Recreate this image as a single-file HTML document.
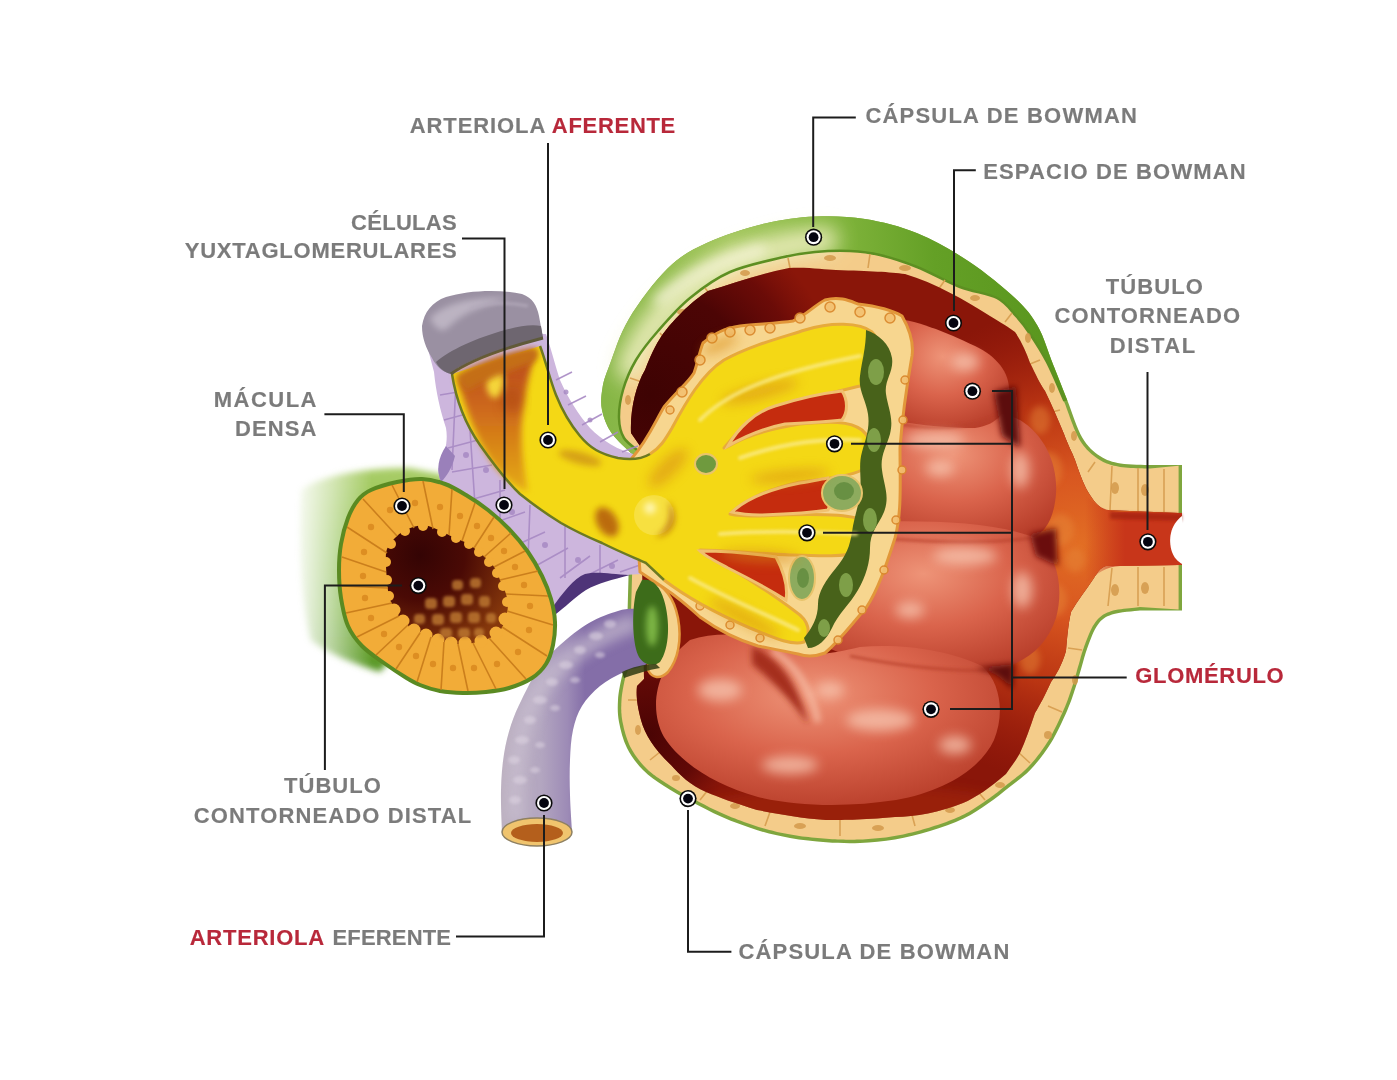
<!DOCTYPE html>
<html><head><meta charset="utf-8"><title>Nefrona</title>
<style>
html,body{margin:0;padding:0;background:#fff;width:1397px;height:1080px;overflow:hidden}
svg{display:block}
.t{font-family:"Liberation Sans",sans-serif;font-weight:bold;font-size:22px;fill:#7b7b7b;stroke:#7b7b7b;stroke-width:0.15px}
.r{fill:#b8283a;stroke:#b8283a}
.ln{stroke:#1c1c1c;stroke-width:2;fill:none}
</style></head><body>
<svg width="1397" height="1080" viewBox="0 0 1397 1080">
<defs>
<g id="dot"><circle r="8.6" fill="#0a0a0a"/><circle r="7" fill="#fff"/><circle r="4.9" fill="#050510"/></g>
</defs>
<rect width="1397" height="1080" fill="#fff"/>
<g id="art"><defs>
<linearGradient id="gTail" x1="292" y1="0" x2="390" y2="0" gradientUnits="userSpaceOnUse">
<stop offset="0" stop-color="#8cbc48" stop-opacity="0"/><stop offset="0.4" stop-color="#8cbc48" stop-opacity="0.7"/><stop offset="1" stop-color="#6aa62e"/></linearGradient>
<linearGradient id="gTailV" x1="0" y1="470" x2="0" y2="690" gradientUnits="userSpaceOnUse">
<stop offset="0" stop-color="#e8f0b0" stop-opacity="0.45"/><stop offset="0.3" stop-color="#000" stop-opacity="0"/><stop offset="0.75" stop-color="#000" stop-opacity="0"/><stop offset="1" stop-color="#1a4a00" stop-opacity="0.3"/></linearGradient>
<linearGradient id="gShell" x1="600" y1="330" x2="1050" y2="300" gradientUnits="userSpaceOnUse">
<stop offset="0" stop-color="#86b646"/><stop offset="0.3" stop-color="#a2c65c"/><stop offset="0.5" stop-color="#86b840"/><stop offset="0.75" stop-color="#64a026"/><stop offset="1" stop-color="#5a961e"/></linearGradient>
<radialGradient id="gSpace" cx="1085" cy="545" r="480" fx="1085" fy="545" gradientUnits="userSpaceOnUse">
<stop offset="0" stop-color="#dd6a22"/><stop offset="0.2" stop-color="#cf4718"/><stop offset="0.42" stop-color="#b0260e"/><stop offset="0.62" stop-color="#7e0e08"/><stop offset="0.85" stop-color="#5a0606"/><stop offset="1" stop-color="#4a0404"/></radialGradient>
<linearGradient id="gEff" x1="505" y1="0" x2="585" y2="0" gradientUnits="userSpaceOnUse">
<stop offset="0" stop-color="#bcb0c0"/><stop offset="0.45" stop-color="#b3a6c0"/><stop offset="0.78" stop-color="#9d8bb6"/><stop offset="1" stop-color="#846ea8"/></linearGradient>
<radialGradient id="gLumen" cx="420" cy="555" r="100" gradientUnits="userSpaceOnUse">
<stop offset="0" stop-color="#340404"/><stop offset="0.45" stop-color="#4a0a05"/><stop offset="1" stop-color="#86380c"/></radialGradient>
<radialGradient id="gLobe" cx="0.45" cy="0.35" r="0.7">
<stop offset="0" stop-color="#ee9478"/><stop offset="0.5" stop-color="#da644c"/><stop offset="1" stop-color="#b83e2a"/></radialGradient>
<linearGradient id="gArtIn" x1="0" y1="350" x2="0" y2="490" gradientUnits="userSpaceOnUse">
<stop offset="0" stop-color="#b8461a"/><stop offset="0.45" stop-color="#cf6c1a"/><stop offset="1" stop-color="#e5aa18"/></linearGradient>
<linearGradient id="gTubeLum" x1="1085" y1="0" x2="1125" y2="0" gradientUnits="userSpaceOnUse">
<stop offset="0" stop-color="#c8361a" stop-opacity="0"/><stop offset="1" stop-color="#c8361a"/></linearGradient>
<linearGradient id="gTailC" x1="0" y1="470" x2="0" y2="670" gradientUnits="userSpaceOnUse">
<stop offset="0" stop-color="#a9cd68"/><stop offset="0.35" stop-color="#8cbf4a"/><stop offset="0.7" stop-color="#74ae36"/><stop offset="1" stop-color="#5a9828"/></linearGradient>
<linearGradient id="gTailM" x1="292" y1="0" x2="372" y2="0" gradientUnits="userSpaceOnUse">
<stop offset="0" stop-color="#000"/><stop offset="0.5" stop-color="#777"/><stop offset="1" stop-color="#fff"/></linearGradient>
<mask id="mTail" maskUnits="userSpaceOnUse" x="250" y="440" width="250" height="260"><rect x="250" y="440" width="250" height="260" fill="url(#gTailM)"/></mask>
<radialGradient id="gSpDark" cx="650" cy="395" r="190" gradientUnits="userSpaceOnUse">
<stop offset="0" stop-color="#3e0303"/><stop offset="0.55" stop-color="#4c0505"/><stop offset="0.8" stop-color="#5e0707" stop-opacity="0.7"/><stop offset="1" stop-color="#6a0a08" stop-opacity="0"/></radialGradient>
<radialGradient id="gSpOr" cx="1080" cy="545" r="240" gradientUnits="userSpaceOnUse">
<stop offset="0" stop-color="#e26e24"/><stop offset="0.3" stop-color="#d85620"/><stop offset="0.6" stop-color="#c23a14" stop-opacity="0.85"/><stop offset="1" stop-color="#a82210" stop-opacity="0"/></radialGradient>
<radialGradient id="gSpDark2" cx="648" cy="735" r="90" gradientUnits="userSpaceOnUse">
<stop offset="0" stop-color="#4a0404"/><stop offset="0.6" stop-color="#560606" stop-opacity="0.8"/><stop offset="1" stop-color="#600808" stop-opacity="0"/></radialGradient>
<filter id="blur2" x="-50%" y="-50%" width="200%" height="200%"><feGaussianBlur stdDeviation="1.5"/></filter>
<filter id="blur3" x="-50%" y="-50%" width="200%" height="200%"><feGaussianBlur stdDeviation="3"/></filter>
<filter id="blur6" x="-50%" y="-50%" width="200%" height="200%"><feGaussianBlur stdDeviation="6"/></filter>
<filter id="blur10" x="-50%" y="-50%" width="200%" height="200%"><feGaussianBlur stdDeviation="10"/></filter>
</defs>

<!-- green tail behind left tubule -->
<g mask="url(#mTail)"><path d="M300,490 C320,476 360,468 410,468 L470,480 L440,600 L380,672 C355,664 330,655 310,640 C300,600 296,540 300,490 Z" fill="url(#gTailC)" filter="url(#blur3)"/></g>
<!-- capsule outer (green rim) -->
<path d="M632,454 C628.6,450.5 616.5,440.3 611.5,433.0 C606.5,425.7 603.5,417.5 602.0,410.0 C600.5,402.5 601.3,395.4 602.5,388.0 C603.7,380.6 605.0,377.1 609.4,365.6 C613.8,354.1 619.2,335.1 628.9,318.9 C638.6,302.7 654.8,280.9 667.8,268.3 C680.8,255.7 690.5,250.4 706.7,243.0 C722.9,235.6 747.0,228.0 765.0,223.6 C783.0,219.2 798.3,217.3 815.0,216.5 C831.7,215.7 848.0,216.2 865.0,219.0 C882.0,221.8 900.0,226.1 917.3,233.2 C934.6,240.3 952.5,250.6 968.9,261.5 C985.3,272.4 1004.0,287.7 1015.5,298.5 C1027.0,309.3 1031.6,315.5 1037.8,326.3 C1044.0,337.1 1047.7,351.0 1052.6,363.3 C1057.5,375.6 1062.5,388.0 1067.4,400.4 C1072.3,412.8 1076.8,428.1 1082.2,437.4 C1087.6,446.7 1093.6,451.6 1100.0,456.0 C1106.4,460.4 1112.4,462.0 1120.7,463.5 C1129.0,465.0 1145.1,464.8 1150.0,465.0 L1182,465 L1182,610.6 L1140,610.6 C1135.3,611.3 1119.0,612.2 1112.0,614.6 C1105.0,617.0 1101.9,619.3 1097.8,624.8 C1093.7,630.2 1090.3,640.2 1087.6,647.3 C1084.9,654.4 1083.5,660.8 1081.5,667.6 C1079.5,674.4 1077.8,680.9 1075.4,688.0 C1073.0,695.1 1071.3,701.2 1067.2,710.4 C1063.1,719.6 1057.1,733.1 1051.0,743.0 C1044.9,752.9 1037.4,762.2 1030.6,769.5 C1023.8,776.8 1017.3,780.8 1010.2,786.5 C1003.1,792.2 995.8,798.2 988.0,803.5 C980.2,808.8 973.3,813.9 963.6,818.5 C953.9,823.1 941.4,827.5 930.0,831.0 C918.6,834.5 906.7,837.5 895.0,839.5 C883.3,841.5 871.5,842.5 860.0,843.0 C848.5,843.5 837.9,843.1 826.2,842.3 C814.5,841.5 801.5,840.0 790.0,838.0 C778.5,836.0 768.8,833.7 757.5,830.2 C746.2,826.7 733.2,821.9 722.0,817.0 C710.8,812.1 699.7,806.2 690.0,801.0 C680.3,795.8 671.8,791.2 664.0,786.0 C656.2,780.8 649.2,776.3 643.0,770.0 C636.8,763.7 631.0,756.0 627.0,748.0 C623.0,740.0 620.5,730.0 619.0,722.0 C617.5,714.0 617.6,707.3 618.0,700.0 C618.4,692.7 620.3,683.7 621.6,678.0 C622.9,672.3 625.3,668.0 626.0,666.0 Z" fill="#7fa63e"/>
<!-- cell layer -->
<path d="M635.5,454.1 L633.4,450.5 L632.0,449.2 L630.4,447.7 L628.7,446.1 L626.7,444.3 L624.8,442.4 L622.8,440.5 L620.8,438.5 L618.9,436.5 L617.2,434.6 L615.6,432.7 L614.4,431.0 L613.3,429.3 L612.2,427.5 L611.2,425.7 L610.3,423.9 L609.5,422.1 L608.7,420.3 L608.0,418.4 L607.3,416.6 L606.8,414.7 L606.3,412.9 L605.8,411.1 L605.4,409.3 L605.1,407.6 L604.9,405.9 L604.8,404.2 L604.7,402.5 L604.7,400.8 L604.7,399.1 L604.8,397.4 L605.0,395.7 L605.2,393.9 L605.4,392.2 L605.7,390.4 L606.0,388.6 L606.3,386.9 L606.6,385.3 L606.9,383.8 L607.2,382.3 L607.6,380.9 L608.1,379.4 L608.6,377.8 L609.2,376.1 L609.9,374.1 L610.7,372.0 L611.6,369.6 L612.7,366.8 L613.8,363.8 L615.0,360.4 L616.2,356.9 L617.5,353.1 L618.9,349.3 L620.4,345.3 L622.0,341.2 L623.7,337.0 L625.5,332.9 L627.5,328.8 L629.6,324.7 L631.9,320.7 L634.4,316.6 L637.2,312.3 L640.1,307.9 L643.3,303.4 L646.6,298.9 L649.9,294.4 L653.4,290.0 L656.8,285.7 L660.3,281.5 L663.7,277.7 L667.0,274.1 L670.3,270.8 L673.3,267.9 L676.3,265.2 L679.3,262.8 L682.1,260.6 L685.0,258.6 L687.9,256.7 L690.9,254.9 L694.0,253.1 L697.2,251.4 L700.6,249.7 L704.3,248.0 L708.1,246.2 L712.3,244.4 L716.7,242.5 L721.3,240.7 L726.2,238.9 L731.2,237.2 L736.2,235.5 L741.4,233.9 L746.5,232.3 L751.5,230.8 L756.5,229.4 L761.2,228.2 L765.8,227.0 L770.2,226.0 L774.5,225.0 L778.7,224.2 L782.9,223.4 L787.0,222.7 L791.0,222.1 L795.0,221.6 L799.0,221.2 L803.0,220.8 L807.0,220.5 L811.1,220.2 L815.2,220.0 L819.3,219.8 L823.4,219.7 L827.5,219.7 L831.5,219.7 L835.6,219.8 L839.7,219.9 L843.8,220.1 L847.9,220.4 L852.0,220.8 L856.1,221.3 L860.3,221.8 L864.4,222.5 L868.7,223.2 L872.9,224.0 L877.2,224.8 L881.5,225.8 L885.8,226.8 L890.2,227.9 L894.5,229.1 L898.8,230.3 L903.1,231.7 L907.4,233.2 L911.7,234.8 L916.0,236.4 L920.2,238.2 L924.5,240.2 L928.8,242.2 L933.1,244.4 L937.5,246.6 L941.8,249.0 L946.0,251.4 L950.3,253.9 L954.5,256.5 L958.7,259.1 L962.9,261.7 L967.0,264.4 L971.0,267.2 L975.2,270.1 L979.4,273.2 L983.6,276.3 L987.7,279.5 L991.8,282.8 L995.8,286.0 L999.7,289.2 L1003.4,292.3 L1006.9,295.4 L1010.1,298.3 L1013.1,301.1 L1015.8,303.6 L1018.2,306.0 L1020.4,308.3 L1022.4,310.4 L1024.2,312.5 L1025.9,314.6 L1027.5,316.6 L1028.9,318.7 L1030.4,320.8 L1031.8,323.1 L1033.3,325.5 L1034.7,328.0 L1036.2,330.7 L1037.5,333.4 L1038.8,336.3 L1040.0,339.3 L1041.2,342.3 L1042.4,345.4 L1043.5,348.6 L1044.6,351.8 L1045.8,355.0 L1046.9,358.2 L1048.1,361.4 L1049.3,364.6 L1050.6,367.7 L1051.8,370.8 L1053.0,373.9 L1054.3,377.0 L1055.5,380.1 L1056.7,383.1 L1058.0,386.2 L1059.2,389.3 L1060.4,392.4 L1061.7,395.5 L1062.9,398.6 L1064.1,401.7 L1065.4,404.8 L1066.5,408.0 L1067.7,411.3 L1068.9,414.6 L1070.1,417.9 L1071.3,421.3 L1072.6,424.5 L1073.8,427.7 L1075.1,430.8 L1076.4,433.8 L1077.8,436.6 L1079.2,439.2 L1080.6,441.5 L1082.1,443.7 L1083.6,445.7 L1085.1,447.6 L1086.7,449.4 L1088.3,451.0 L1089.9,452.5 L1091.5,454.0 L1093.1,455.3 L1094.7,456.6 L1096.4,457.8 L1098.1,458.9 L1099.8,460.0 L1101.5,461.0 L1103.2,461.9 L1105.0,462.7 L1106.7,463.5 L1108.5,464.1 L1110.3,464.7 L1112.2,465.2 L1114.0,465.7 L1116.0,466.1 L1118.0,466.6 L1120.1,467.0 L1122.5,467.3 L1125.1,467.6 L1127.9,467.8 L1130.7,468.0 L1133.6,468.1 L1136.5,468.2 L1139.4,468.3 L1142.0,468.3 L1144.5,468.4 L1146.6,468.4 L1148.5,468.4 L1150.0,468.5 L1178.6,465.8 L1178.6,609.6 L1140.0,607.1 L1138.2,607.3 L1136.4,607.5 L1134.3,607.7 L1131.9,607.9 L1129.3,608.2 L1126.5,608.5 L1123.7,608.8 L1120.9,609.2 L1118.1,609.6 L1115.5,610.1 L1113.1,610.6 L1110.9,611.3 L1109.1,611.9 L1107.4,612.6 L1105.9,613.3 L1104.4,614.0 L1103.0,614.8 L1101.7,615.7 L1100.5,616.7 L1099.3,617.7 L1098.2,618.8 L1097.1,620.0 L1096.1,621.3 L1095.0,622.7 L1093.9,624.4 L1092.8,626.1 L1091.8,628.0 L1090.8,630.0 L1089.9,632.0 L1089.0,634.1 L1088.1,636.2 L1087.3,638.2 L1086.5,640.3 L1085.7,642.3 L1085.0,644.2 L1084.3,646.1 L1083.7,647.9 L1083.0,649.7 L1082.5,651.5 L1081.9,653.2 L1081.4,654.9 L1080.9,656.6 L1080.5,658.3 L1080.0,660.0 L1079.6,661.6 L1079.1,663.3 L1078.6,664.9 L1078.1,666.6 L1077.6,668.3 L1077.1,670.0 L1076.7,671.7 L1076.2,673.4 L1075.7,675.0 L1075.2,676.7 L1074.7,678.4 L1074.2,680.0 L1073.7,681.7 L1073.2,683.4 L1072.7,685.2 L1072.1,686.9 L1071.5,688.7 L1070.9,690.4 L1070.4,692.1 L1069.8,693.8 L1069.2,695.5 L1068.6,697.3 L1068.0,699.1 L1067.3,700.9 L1066.6,702.8 L1065.8,704.7 L1065.0,706.8 L1064.0,709.0 L1062.9,711.4 L1061.8,713.9 L1060.6,716.5 L1059.4,719.3 L1058.1,722.1 L1056.7,724.9 L1055.3,727.8 L1053.9,730.6 L1052.4,733.4 L1051.0,736.1 L1049.5,738.7 L1048.0,741.2 L1046.5,743.6 L1044.9,745.9 L1043.3,748.3 L1041.7,750.6 L1040.0,752.9 L1038.3,755.1 L1036.6,757.3 L1034.9,759.4 L1033.1,761.4 L1031.4,763.4 L1029.7,765.3 L1028.1,767.1 L1026.4,768.8 L1024.8,770.3 L1023.2,771.8 L1021.6,773.2 L1020.0,774.5 L1018.4,775.8 L1016.7,777.1 L1015.0,778.4 L1013.3,779.7 L1011.6,781.0 L1009.8,782.4 L1008.0,783.8 L1006.2,785.2 L1004.4,786.6 L1002.6,788.1 L1000.8,789.5 L999.0,790.9 L997.2,792.4 L995.4,793.8 L993.5,795.2 L991.7,796.6 L989.8,797.9 L987.9,799.3 L986.0,800.6 L984.1,801.9 L982.2,803.3 L980.3,804.6 L978.4,805.8 L976.5,807.1 L974.6,808.3 L972.7,809.5 L970.7,810.7 L968.7,811.9 L966.6,813.1 L964.4,814.2 L962.1,815.3 L959.7,816.5 L957.2,817.6 L954.5,818.7 L951.8,819.7 L949.1,820.8 L946.3,821.9 L943.4,822.9 L940.5,823.9 L937.6,824.9 L934.7,825.8 L931.8,826.8 L929.0,827.7 L926.1,828.5 L923.3,829.3 L920.4,830.2 L917.5,830.9 L914.6,831.7 L911.8,832.4 L908.9,833.1 L906.0,833.8 L903.1,834.4 L900.2,835.0 L897.3,835.5 L894.4,836.1 L891.5,836.5 L888.7,837.0 L885.8,837.4 L882.9,837.7 L880.0,838.0 L877.1,838.3 L874.2,838.6 L871.3,838.8 L868.4,839.0 L865.6,839.2 L862.7,839.4 L859.9,839.5 L857.0,839.6 L854.3,839.7 L851.5,839.7 L848.7,839.7 L846.0,839.7 L843.3,839.6 L840.5,839.6 L837.7,839.5 L835.0,839.3 L832.2,839.2 L829.3,839.0 L826.5,838.8 L823.5,838.6 L820.6,838.3 L817.6,838.1 L814.5,837.8 L811.5,837.5 L808.4,837.1 L805.4,836.7 L802.3,836.4 L799.3,835.9 L796.4,835.5 L793.5,835.0 L790.6,834.6 L787.8,834.0 L785.1,833.5 L782.4,833.0 L779.7,832.4 L777.1,831.9 L774.5,831.3 L771.9,830.6 L769.3,829.9 L766.7,829.2 L764.0,828.5 L761.3,827.7 L758.5,826.9 L755.7,826.0 L752.8,825.0 L749.9,824.0 L746.9,823.0 L743.9,821.9 L740.9,820.8 L737.9,819.7 L735.0,818.5 L732.0,817.4 L729.1,816.2 L726.2,815.0 L723.4,813.8 L720.6,812.6 L717.9,811.3 L715.1,810.0 L712.4,808.7 L709.7,807.4 L707.0,806.0 L704.3,804.6 L701.7,803.3 L699.1,801.9 L696.6,800.6 L694.1,799.2 L691.7,797.9 L689.3,796.6 L686.9,795.4 L684.6,794.1 L682.4,792.9 L680.2,791.7 L678.0,790.5 L675.9,789.2 L673.9,788.0 L671.8,786.8 L669.8,785.6 L667.9,784.3 L665.9,783.1 L664.0,781.8 L662.1,780.5 L660.2,779.3 L658.4,778.1 L656.7,776.9 L654.9,775.6 L653.3,774.4 L651.6,773.1 L650.0,771.8 L648.5,770.4 L647.0,769.0 L645.5,767.6 L644.0,766.0 L642.6,764.4 L641.1,762.7 L639.7,761.1 L638.3,759.3 L637.0,757.6 L635.7,755.8 L634.5,753.9 L633.3,752.1 L632.2,750.2 L631.1,748.3 L630.1,746.4 L629.2,744.5 L628.4,742.5 L627.6,740.5 L626.8,738.3 L626.1,736.2 L625.4,734.0 L624.8,731.8 L624.2,729.7 L623.7,727.5 L623.3,725.4 L622.8,723.3 L622.4,721.4 L622.1,719.5 L621.8,717.6 L621.6,715.8 L621.5,714.1 L621.3,712.4 L621.3,710.6 L621.2,708.9 L621.2,707.2 L621.3,705.5 L621.3,703.8 L621.4,702.0 L621.5,700.2 L621.6,698.4 L621.8,696.6 L622.0,694.7 L622.3,692.8 L622.6,690.9 L622.9,689.0 L623.3,687.1 L623.6,685.3 L624.0,683.5 L624.3,681.8 L624.7,680.3 L625.0,678.8 L625.3,677.5 L625.7,676.3 L626.1,675.1 L626.5,674.0 L626.9,673.0 L627.3,672.0 L627.7,671.0 L628.0,670.1 L628.4,669.3 L628.7,668.6 L629.0,667.9 L629.5,666.1 Z" fill="#f4cc8a"/>
<!-- green shell -->
<path d="M632,454 C628.6,450.5 616.5,440.3 611.5,433.0 C606.5,425.7 603.5,417.5 602.0,410.0 C600.5,402.5 601.3,395.4 602.5,388.0 C603.7,380.6 605.0,377.1 609.4,365.6 C613.8,354.1 619.2,335.1 628.9,318.9 C638.6,302.7 654.8,280.9 667.8,268.3 C680.8,255.7 690.5,250.4 706.7,243.0 C722.9,235.6 747.0,228.0 765.0,223.6 C783.0,219.2 798.3,217.3 815.0,216.5 C831.7,215.7 848.0,216.2 865.0,219.0 C882.0,221.8 900.0,226.1 917.3,233.2 C934.6,240.3 952.5,250.6 968.9,261.5 C985.3,272.4 1004.0,287.7 1015.5,298.5 C1027.0,309.3 1031.6,315.5 1037.8,326.3 C1044.0,337.1 1047.7,351.0 1052.6,363.3 C1057.5,375.6 1064.9,394.2 1067.4,400.4 L1064.5,401 C1061.6,394.5 1052.8,373.2 1047.0,362.0 C1041.2,350.8 1035.2,341.7 1030.0,334.0 C1024.8,326.3 1021.5,322.0 1016.0,316.0 C1010.5,310.0 1006.3,302.8 997.0,298.0 C987.7,293.2 973.3,292.2 960.0,287.0 C946.7,281.8 930.3,272.3 917.0,267.0 C903.7,261.7 891.2,257.7 880.0,255.0 C868.8,252.3 860.8,251.5 850.0,251.0 C839.2,250.5 826.0,251.0 815.0,252.0 C804.0,253.0 798.2,253.7 784.0,257.0 C769.8,260.3 745.7,265.2 730.0,272.0 C714.3,278.8 702.0,288.2 690.0,298.0 C678.0,307.8 667.0,320.7 658.0,331.0 C649.0,341.3 641.8,350.2 636.0,360.0 C630.2,369.8 625.8,380.3 623.0,390.0 C620.2,399.7 618.8,410.0 619.0,418.0 C619.2,426.0 620.5,432.3 624.0,438.0 C627.5,443.7 637.3,449.7 640.0,452.0 Z" fill="url(#gShell)"/>
<path d="M630,368 C646,326 680,292 722,268 C755,252 790,244 825,240" fill="none" stroke="#eeeebe" stroke-width="26" stroke-linecap="round" opacity="0.95" filter="url(#blur10)"/>
<path d="M660,300 C690,275 720,260 760,250" fill="none" stroke="#f6f4d8" stroke-width="12" stroke-linecap="round" opacity="0.8" filter="url(#blur6)"/>
<path d="M1064.5,401 C1061.6,394.5 1052.8,373.2 1047.0,362.0 C1041.2,350.8 1035.2,341.7 1030.0,334.0 C1024.8,326.3 1021.5,322.0 1016.0,316.0 C1010.5,310.0 1006.3,302.8 997.0,298.0 C987.7,293.2 973.3,292.2 960.0,287.0 C946.7,281.8 930.3,272.3 917.0,267.0 C903.7,261.7 891.2,257.7 880.0,255.0 C868.8,252.3 860.8,251.5 850.0,251.0 C839.2,250.5 826.0,251.0 815.0,252.0 C804.0,253.0 798.2,253.7 784.0,257.0 C769.8,260.3 745.7,265.2 730.0,272.0 C714.3,278.8 702.0,288.2 690.0,298.0 C678.0,307.8 667.0,320.7 658.0,331.0 C649.0,341.3 641.8,350.2 636.0,360.0 C630.2,369.8 625.8,380.3 623.0,390.0 C620.2,399.7 618.8,410.0 619.0,418.0 C619.2,426.0 620.5,432.3 624.0,438.0 C627.5,443.7 637.3,449.7 640.0,452.0" fill="none" stroke="#5d8f22" stroke-width="2.5"/>
<!-- cell separators & nuclei -->
<g stroke="#d9a154" stroke-width="1.6" fill="none">
<path d="M660,333 L668,343 M705,288 L712,297 M788,258 L790,268 M870,254 L868,268 M945,280 L938,290 M1012,313 L1005,322 M1040,360 L1030,364 M1060,410 L1048,413 M1095,462 L1088,472 M1112,466 L1110,510 M1138,468 L1138,512 M1164,469 L1164,512 M1112,568 L1108,606 M1138,567 L1138,606 M1164,567 L1164,606 M1082,650 L1068,648 M1062,712 L1048,706 M1030,763 L1018,752 M985,800 L975,788 M915,826 L912,815 M840,836 L840,820 M765,826 L770,812 M700,800 L708,790 M650,760 L660,752 M628,700 L640,700 M630,378 L642,382"/>
</g>
<g fill="#d49a4c" opacity="0.85">
<ellipse cx="682" cy="312" rx="5" ry="3"/><ellipse cx="745" cy="273" rx="5" ry="3"/><ellipse cx="830" cy="258" rx="6" ry="3"/><ellipse cx="905" cy="268" rx="6" ry="3"/><ellipse cx="975" cy="298" rx="5" ry="3"/><ellipse cx="1028" cy="338" rx="3" ry="5"/><ellipse cx="1052" cy="388" rx="3" ry="5"/><ellipse cx="1074" cy="436" rx="3" ry="5"/><ellipse cx="1145" cy="490" rx="4" ry="6"/><ellipse cx="1115" cy="488" rx="4" ry="6"/><ellipse cx="1145" cy="588" rx="4" ry="6"/><ellipse cx="1115" cy="590" rx="4" ry="6"/><ellipse cx="1075" cy="680" rx="3" ry="5"/><ellipse cx="1048" cy="735" rx="4" ry="4"/><ellipse cx="1000" cy="785" rx="5" ry="3"/><ellipse cx="950" cy="810" rx="5" ry="3"/><ellipse cx="878" cy="828" rx="6" ry="3"/><ellipse cx="800" cy="826" rx="6" ry="3"/><ellipse cx="735" cy="806" rx="5" ry="3"/><ellipse cx="676" cy="778" rx="4" ry="3"/><ellipse cx="638" cy="730" rx="3" ry="5"/><ellipse cx="628" cy="400" rx="3" ry="5"/>
</g>
<!-- bowman's space -->
<clipPath id="cpSpace"><path d="M640,446 L631,433 C630,410 636,385 645,370 C652,352 658,340 666,330 C685,307 700,296 708,291 C735,283 760,274 789,268 C810,267 825,270 836,270 C870,271 890,272 905,274 C935,283 965,300 990,316 C1000,322 1010,328 1015,332 C1022,342 1026,352 1030,363 C1036,375 1040,384 1045,391 C1052,405 1058,420 1064,434 C1068,445 1072,452 1075,460 C1080,475 1085,488 1090,495 C1095,503 1100,508 1106,510 L1178,513 L1178,565 L1106,566 C1100,568 1098,572 1094,578 C1086,590 1078,600 1071,612 C1068,625 1067,640 1066,651 C1062,665 1056,675 1051,682 C1045,695 1040,705 1035,713 C1030,728 1025,742 1020,753 C1015,762 1010,768 1006,774 C990,788 975,798 963,803 C940,812 915,817 895,817 C860,820 840,820 826,820 C800,818 780,814 757,810 C735,803 720,798 706,792 C690,785 680,775 671,765 C655,750 645,735 641,720 C637,705 636,695 637,686 L644,679 Z"/></clipPath>
<g clip-path="url(#cpSpace)">
<rect x="600" y="250" width="600" height="600" fill="#8a1609"/>
<circle cx="650" cy="395" r="190" fill="url(#gSpDark)"/>
<circle cx="1080" cy="545" r="240" fill="url(#gSpOr)"/>
<circle cx="648" cy="735" r="90" fill="url(#gSpDark2)"/>
<ellipse cx="860" cy="810" rx="160" ry="25" fill="#a82a10" opacity="0.5" filter="url(#blur6)"/>
</g>
<path d="M1085,495 C1100,508 1106,511 1120,512 L1182,513 L1182,565 L1120,566 C1106,567 1098,572 1085,585 Z" fill="url(#gTubeLum)"/>
<path d="M1110,512 L1182,514 L1182,521 L1110,519 Z" fill="#9a1a10" opacity="0.6" filter="url(#blur2)"/>
<!-- orange textured cells in the right space -->
<g fill="#e88a3a" opacity="0.45" filter="url(#blur3)">
<ellipse cx="1048" cy="470" rx="14" ry="18"/><ellipse cx="1060" cy="530" rx="14" ry="16"/><ellipse cx="1040" cy="420" rx="10" ry="14"/><ellipse cx="1055" cy="600" rx="12" ry="16"/><ellipse cx="1030" cy="660" rx="10" ry="14"/><ellipse cx="1075" cy="560" rx="10" ry="12"/>
</g>
<!-- white notch at tube end -->
<path d="M1182,516 C1170,525 1168,540 1172,552 C1175,560 1180,563 1184,565 Z" fill="#fff"/>
<!-- glomerulus lobes -->
<path d="M885,412 C930,406 990,405 1020,420 C1046,436 1058,466 1056,494 C1054,518 1046,534 1028,540 C990,544 930,538 870,536 Z" fill="url(#gLobe)"/>
<path d="M866,522 C930,520 995,522 1036,538 C1058,556 1064,588 1056,618 C1046,648 1024,664 994,670 C958,674 900,666 850,656 C830,650 820,644 812,640 Z" fill="url(#gLobe)"/>
<path d="M888,318 C915,319 945,332 975,346 C996,356 1010,372 1009,392 C1008,410 998,425 975,428 C950,428 925,426 890,420 Z" fill="url(#gLobe)"/>
<path d="M690,640 C720,630 760,634 790,648 C810,658 830,654 860,647 C900,643 950,650 982,666 C1002,684 1004,716 994,740 C980,770 942,792 896,800 C850,807 800,807 758,797 C714,785 680,762 664,737 C650,712 652,670 690,640 Z" fill="url(#gLobe)"/>
<!-- lobe contour lines -->
<g fill="none" stroke="#b8402c" stroke-width="3" opacity="0.7" filter="url(#blur2)">
<path d="M900,424 C930,430 970,430 1004,414"/>
<path d="M880,538 C930,542 990,544 1030,538"/>
<path d="M850,656 C900,666 950,672 994,670"/>
</g>
<!-- crease in bottom lobe -->
<path d="M752,646 C775,655 798,680 808,724 C795,706 778,686 752,664 Z" fill="#a52e1e" filter="url(#blur3)"/>
<path d="M772,650 C795,664 812,690 818,722" fill="none" stroke="#f7c0a8" stroke-width="6" filter="url(#blur3)" opacity="0.8"/>
<!-- dark shadows -->
<path d="M994,392 L1016,386 L1020,448 L1002,436 Z" fill="#5c0a0c" filter="url(#blur3)"/>
<path d="M1030,534 L1056,528 L1058,566 L1036,556 Z" fill="#6a0c0c" filter="url(#blur3)"/>
<path d="M975,668 C990,670 1002,676 1012,690 L1014,664 Z" fill="#5c0a0c" filter="url(#blur3)"/>
<!-- highlights -->
<g fill="#f8c8b2" filter="url(#blur6)" opacity="0.75">
<ellipse cx="935" cy="440" rx="30" ry="8"/>
<ellipse cx="1020" cy="470" rx="9" ry="18"/>
<ellipse cx="940" cy="468" rx="14" ry="8"/>
<ellipse cx="965" cy="556" rx="32" ry="9"/>
<ellipse cx="1022" cy="590" rx="10" ry="18"/>
<ellipse cx="910" cy="610" rx="14" ry="8"/>
<ellipse cx="720" cy="690" rx="22" ry="11"/>
<ellipse cx="880" cy="720" rx="34" ry="11"/>
<ellipse cx="955" cy="745" rx="16" ry="9"/>
<ellipse cx="790" cy="765" rx="28" ry="9"/>
<ellipse cx="965" cy="362" rx="14" ry="9"/>
<ellipse cx="830" cy="690" rx="14" ry="8"/>
</g>
<!-- purple JG band -->
<path d="M424,334 L546,334 C552,352 556,368 560,380 C568,398 578,414 590,428 C602,440 616,450 640,456 L662,462 L664,572 C640,574 615,576 600,576 C585,578 570,596 554,610 L500,560 L455,500 L440,480 L438,470 C446,452 448,440 446,428 C440,410 436,392 434,372 Z" fill="#cdb6dd"/>
<g stroke="#a88ac4" stroke-width="1.6" fill="none" opacity="0.9">
<path d="M440,395 L458,392 M444,420 L466,414 M448,448 L478,440 M452,472 L492,465 M470,500 L505,490 M488,525 L525,512 M510,548 L545,532 M532,568 L568,548 M560,578 L590,556 M590,574 L618,560 M620,572 L640,565"/>
<path d="M456,380 L452,470 M470,430 L475,505 M500,480 L500,535 M530,505 L528,560 M565,525 L565,578 M600,545 L600,575"/>
<path d="M556,380 L572,372 M568,405 L586,396 M582,425 L602,414 M600,442 L618,432 M622,452 L638,446"/>
</g>
<g fill="#a587c2" opacity="0.8">
<circle cx="462" cy="405" r="3"/><circle cx="486" cy="470" r="3"/><circle cx="512" cy="512" r="3"/><circle cx="545" cy="545" r="3"/><circle cx="578" cy="560" r="3"/><circle cx="612" cy="566" r="3"/><circle cx="566" cy="392" r="2.5"/><circle cx="590" cy="420" r="2.5"/><circle cx="466" cy="455" r="3"/><circle cx="492" cy="525" r="3"/>
</g>
<path d="M446,446 C438,458 436,470 441,482 C447,476 452,468 455,456 Z" fill="#9a80ba"/>
<path d="M552,608 C562,594 574,578 585,574 C597,571 610,574 630,575 C612,580 598,583 586,590 C574,598 564,608 556,614 Z" fill="#4e3478"/>

<!-- tuft outer border -->
<path d="M632,458 C648,440 656,420 664,407 C676,392 688,383 694,373 C698,362 700,350 703,343 C715,333 725,328 740,326 C760,324 780,323 793,321 C805,316 815,305 825,300 C840,296 850,301 858,304 C875,306 892,310 902,316 C910,330 914,342 912,356 C906,390 902,420 900,448 C900,480 902,512 895,538 C886,566 878,590 866,608 C850,626 840,640 825,653 C812,658 804,656 798,654 C780,650 768,648 758,646 C738,640 718,630 700,617 C688,606 676,596 664,588 L640,572 Z" fill="#f7d68f" stroke="#e2973a" stroke-width="3"/>
<g fill="#f3c070" stroke="#d9862a" stroke-width="1.5" opacity="0.9">
<circle cx="712" cy="338" r="5"/><circle cx="730" cy="332" r="5"/><circle cx="750" cy="330" r="5"/><circle cx="770" cy="328" r="5"/><circle cx="800" cy="318" r="5"/><circle cx="830" cy="307" r="5"/><circle cx="860" cy="312" r="5"/><circle cx="890" cy="318" r="5"/><circle cx="700" cy="360" r="5"/><circle cx="682" cy="392" r="5"/><circle cx="670" cy="410" r="4"/>
<circle cx="905" cy="380" r="4"/><circle cx="903" cy="420" r="4"/><circle cx="902" cy="470" r="4"/><circle cx="896" cy="520" r="4"/><circle cx="884" cy="570" r="4"/><circle cx="862" cy="610" r="4"/><circle cx="838" cy="640" r="4"/>
<circle cx="760" cy="638" r="4"/><circle cx="730" cy="625" r="4"/><circle cx="700" cy="606" r="4"/>
</g>

<!-- yellow mass: arteriole + fingers -->
<g fill="#f4d815">
<path d="M452,374 C456,400 466,425 480,445 C492,462 505,480 520,494 C535,506 548,515 561,523 C575,531 590,538 602,543 C620,552 635,558 646,563 L664,580 C690,600 720,615 750,628 C770,636 790,646 804,642 C812,632 808,620 796,612 C775,596 750,580 730,568 C720,560 705,555 700,550 C720,550 750,553 790,555 C820,556 845,557 858,552 C868,545 868,526 856,518 C840,514 800,514 760,516 C748,516 738,516 730,514 C745,500 765,490 800,482 C830,478 850,476 862,470 C874,462 874,440 862,430 C850,421 830,421 800,424 C780,427 760,432 745,438 C735,442 730,446 724,448 C735,435 748,418 770,410 C800,400 835,392 860,386 C882,378 886,346 872,332 C860,322 830,322 805,330 C780,338 752,345 724,360 C702,374 686,402 672,428 C665,440 660,448 650,454 C640,460 630,460 618,458 C600,454 590,448 580,436 C570,424 562,410 556,395 C550,380 546,362 540,346 Z"/>
</g>
<!-- finger outlines -->
<g fill="none" stroke="#e7aa3c" stroke-width="3" stroke-linejoin="round">
<path d="M664,580 C690,600 720,615 750,628 C770,636 790,646 804,642 C812,632 808,620 796,612 C775,596 750,580 730,568 C720,560 705,555 700,550 C720,550 750,553 790,555 C820,556 845,557 858,552 C868,545 868,526 856,518 C840,514 800,514 760,516 C748,516 738,516 730,514 C745,500 765,490 800,482 C830,478 850,476 862,470 C874,462 874,440 862,430 C850,421 830,421 800,424 C780,427 760,432 745,438 C735,442 730,446 724,448 C735,435 748,418 770,410 C800,400 835,392 860,386 C882,378 886,346 872,332 C860,322 830,322 805,330 C780,338 752,345 724,360 C702,374 686,402 672,428 C665,440 660,448 650,454"/>
</g>
<!-- red gaps -->
<g fill="#c52c0e" stroke="#f0c070" stroke-width="3">
<path d="M728,446 C738,428 755,412 775,406 C800,398 825,393 842,391 C848,400 848,412 842,420 C825,422 805,423 785,424 C765,428 745,436 728,446 Z"/>
<path d="M732,512 C745,500 765,490 800,483 C812,481 822,479 828,478 C832,490 832,502 828,510 C810,513 790,514 760,515 C748,515 740,514 732,512 Z"/>
<path d="M700,551 C720,551 750,553 776,557 C784,572 788,588 786,600 C770,590 748,578 728,568 C715,561 705,556 700,551 Z"/>
</g>
<!-- shading on arteriole -->
<path d="M458,380 C466,410 476,438 492,462 C502,476 514,486 528,492 C524,470 520,445 522,420 C524,395 530,370 536,350 C510,356 482,366 458,380 Z" fill="url(#gArtIn)" filter="url(#blur3)"/>
<ellipse cx="495" cy="382" rx="9" ry="16" fill="#f6d83a" filter="url(#blur3)"/>
<ellipse cx="512" cy="400" rx="10" ry="14" fill="#a8400f" opacity="0.5" filter="url(#blur6)"/>
<ellipse cx="607" cy="522" rx="10" ry="16" transform="rotate(-30 607 522)" fill="#b56010" filter="url(#blur3)" opacity="0.9"/>
<ellipse cx="580" cy="458" rx="22" ry="6" transform="rotate(15 580 458)" fill="#c98a14" filter="url(#blur3)" opacity="0.7"/>
<circle cx="654" cy="515" r="20" fill="#f7e040"/>
<path d="M668,500 C680,515 676,535 655,538 C670,528 672,515 668,500 Z" fill="#c07a12" filter="url(#blur3)"/>
<circle cx="650" cy="508" r="6" fill="#fff6b0" filter="url(#blur3)"/>
<!-- arteriole outlines -->
<path d="M452,374 C456,400 466,425 480,445 C492,462 505,480 520,494 C535,506 548,515 561,523 C575,531 590,538 602,543 C620,552 635,558 646,563 L664,580" fill="none" stroke="#6c7a22" stroke-width="2.5"/>
<path d="M540,346 C546,362 550,380 556,395 C562,410 570,424 580,436 C590,448 600,454 618,458 C630,460 640,460 650,454" fill="none" stroke="#6c7a22" stroke-width="2.5"/>
<!-- dark green column -->
<path d="M866,330 C878,334 890,344 892,358 C894,372 884,380 886,394 C888,408 894,418 890,434 C886,448 880,456 882,470 C884,486 890,496 884,512 C878,526 870,532 870,548 C870,562 866,576 858,590 C850,604 838,614 832,628 C826,640 818,648 808,648 L804,638 C812,628 818,618 818,604 C818,592 826,580 836,568 C846,556 850,546 852,532 C854,518 858,508 860,494 C862,478 858,466 862,452 C866,438 870,428 868,414 C866,400 858,390 860,376 C862,360 866,348 866,330 Z" fill="#48621a"/>
<g fill="#84a64e" opacity="0.9">
<ellipse cx="876" cy="372" rx="8" ry="13"/><ellipse cx="874" cy="440" rx="7" ry="12"/><ellipse cx="870" cy="520" rx="7" ry="12"/><ellipse cx="846" cy="585" rx="7" ry="12"/><ellipse cx="824" cy="628" rx="6" ry="9"/>
</g>
<!-- green cells -->
<g stroke="#e8c46c" stroke-width="2">
<ellipse cx="842" cy="493" rx="20" ry="18" fill="#8dab5e"/>
<ellipse cx="802" cy="578" rx="13" ry="22" fill="#8dab5e"/>
<ellipse cx="706" cy="464" rx="11" ry="10" fill="#6f9a3e"/>
</g>
<g fill="#5f8a3c" opacity="0.8"><ellipse cx="844" cy="491" rx="10" ry="9"/><ellipse cx="803" cy="578" rx="6" ry="10"/></g>
<!-- orange shading in tuft -->
<g fill="#d88a18" filter="url(#blur6)" opacity="0.55">
<ellipse cx="668" cy="468" rx="26" ry="9" transform="rotate(-45 668 468)"/>
<ellipse cx="760" cy="392" rx="40" ry="7" transform="rotate(-15 760 392)"/>
<ellipse cx="790" cy="476" rx="40" ry="6" transform="rotate(-5 790 476)"/>
<ellipse cx="760" cy="556" rx="40" ry="6" transform="rotate(3 760 556)"/>
<ellipse cx="745" cy="618" rx="40" ry="6" transform="rotate(28 745 618)"/>
<ellipse cx="720" cy="345" rx="20" ry="6" transform="rotate(-25 720 345)"/>
</g>
<!-- pale stripes inside fingers -->
<g fill="none" stroke="#fbeb8a" stroke-width="4" stroke-linecap="round" opacity="0.8" filter="url(#blur2)">
<path d="M700,420 C730,390 780,372 860,356"/>
<path d="M740,458 C780,444 820,438 860,440"/>
<path d="M720,534 C770,530 820,532 856,534"/>
<path d="M690,578 C730,600 770,616 798,630"/>
</g>
<!-- gray cap -->
<path d="M422,326 C424,312 432,302 446,297 C468,290 500,289 522,294 C533,298 537,306 539,316 L543,338 C528,342 500,350 478,358 C466,363 456,368 451,374 C442,372 436,366 432,358 C426,348 422,338 422,326 Z" fill="#9a90a2"/>
<path d="M430,318 C446,302 476,296 510,298 C490,304 466,310 450,326 C442,334 436,330 430,318 Z" fill="#c2bac8" opacity="0.85" filter="url(#blur3)"/>
<path d="M470,308 C490,302 510,302 528,306" fill="none" stroke="#b4aabb" stroke-width="3" opacity="0.8" filter="url(#blur2)"/>
<path d="M436,362 C450,350 476,338 505,330 C520,326 532,324 541,326 L543,338 C528,342 500,350 478,358 C466,363 456,368 451,374 C444,372 439,368 436,362 Z" fill="#6e6670"/>
<path d="M451,374 C470,360 505,348 543,338" fill="none" stroke="#5e5a3a" stroke-width="3"/>
<!-- lumen opening -->
<path d="M455,376 C478,362 505,352 536,348 C540,355 538,360 530,364 C505,372 482,382 466,392 Z" fill="#c46e16" filter="url(#blur3)"/>
<!-- efferent arteriole -->
<path d="M502.0,832.0 C501.8,825.0 500.7,803.0 501.0,790.0 C501.3,777.0 502.3,764.8 504.0,754.0 C505.7,743.2 508.0,734.2 511.0,725.0 C514.0,715.8 517.3,708.5 522.0,699.0 C526.7,689.5 532.7,677.0 539.0,668.0 C545.3,659.0 551.7,652.5 560.0,645.0 C568.3,637.5 579.3,628.7 589.0,623.0 C598.7,617.3 610.2,613.3 618.0,611.0 C625.8,608.7 631.0,608.7 636.0,609.0 C641.0,609.3 645.3,608.2 648.0,613.0 C650.7,617.8 651.8,629.8 652.0,638.0 C652.2,646.2 653.7,656.3 649.0,662.0 C644.3,667.7 632.2,668.0 624.0,672.0 C615.8,676.0 607.0,680.3 600.0,686.0 C593.0,691.7 586.5,698.7 582.0,706.0 C577.5,713.3 575.0,721.0 573.0,730.0 C571.0,739.0 570.5,749.2 570.0,760.0 C569.5,770.8 569.7,783.0 570.0,795.0 C570.3,807.0 571.7,825.8 572.0,832.0 Z" fill="url(#gEff)"/>
<clipPath id="cpEff"><path d="M502.0,832.0 C501.8,825.0 500.7,803.0 501.0,790.0 C501.3,777.0 502.3,764.8 504.0,754.0 C505.7,743.2 508.0,734.2 511.0,725.0 C514.0,715.8 517.3,708.5 522.0,699.0 C526.7,689.5 532.7,677.0 539.0,668.0 C545.3,659.0 551.7,652.5 560.0,645.0 C568.3,637.5 579.3,628.7 589.0,623.0 C598.7,617.3 610.2,613.3 618.0,611.0 C625.8,608.7 631.0,608.7 636.0,609.0 C641.0,609.3 645.3,608.2 648.0,613.0 C650.7,617.8 651.8,629.8 652.0,638.0 C652.2,646.2 653.7,656.3 649.0,662.0 C644.3,667.7 632.2,668.0 624.0,672.0 C615.8,676.0 607.0,680.3 600.0,686.0 C593.0,691.7 586.5,698.7 582.0,706.0 C577.5,713.3 575.0,721.0 573.0,730.0 C571.0,739.0 570.5,749.2 570.0,760.0 C569.5,770.8 569.7,783.0 570.0,795.0 C570.3,807.0 571.7,825.8 572.0,832.0 Z"/></clipPath>
<g clip-path="url(#cpEff)">
<path d="M516,822 C514,775 518,735 532,703 C550,668 585,640 636,622" fill="none" stroke="#c9bfd0" stroke-width="18" opacity="0.65" filter="url(#blur6)"/>
<g fill="#ded4e2" opacity="0.55" filter="url(#blur2)">
<ellipse cx="515" cy="800" rx="6" ry="4"/><ellipse cx="520" cy="780" rx="7" ry="4"/><ellipse cx="514" cy="760" rx="6" ry="4"/><ellipse cx="522" cy="740" rx="7" ry="4"/><ellipse cx="530" cy="720" rx="6" ry="4"/><ellipse cx="540" cy="700" rx="7" ry="4"/><ellipse cx="552" cy="682" rx="6" ry="4"/><ellipse cx="566" cy="665" rx="7" ry="4"/><ellipse cx="580" cy="650" rx="6" ry="4"/><ellipse cx="596" cy="636" rx="7" ry="4"/><ellipse cx="610" cy="624" rx="6" ry="4"/><ellipse cx="535" cy="770" rx="5" ry="3"/><ellipse cx="540" cy="745" rx="5" ry="3"/><ellipse cx="555" cy="708" rx="5" ry="3"/><ellipse cx="575" cy="680" rx="5" ry="3"/><ellipse cx="600" cy="655" rx="5" ry="3"/>
</g>
</g>
<path d="M646,612 C652,625 653,645 649,662" fill="none" stroke="#e6e0ea" stroke-width="2.5"/>
<ellipse cx="537" cy="832" rx="35" ry="14" fill="#f0c46e" stroke="#8e8062" stroke-width="1.5"/>
<ellipse cx="537" cy="833" rx="26" ry="9" fill="#b45f1c"/>
<!-- tuft lower border near ring -->
<path d="M650,582 C664,584 674,598 678,618 C682,640 678,660 668,672 C660,680 652,678 648,670 Z" fill="#f5d28e" stroke="#e2973a" stroke-width="2.5"/>
<!-- green ring near efferent -->
<path d="M642,580 C652,578 660,586 664,600 C670,620 670,648 660,662 C652,668 642,664 638,655 C632,640 632,610 636,592 Z" fill="#3d6c1a"/>
<ellipse cx="652" cy="626" rx="6" ry="20" fill="#7db644" filter="url(#blur3)"/>
<path d="M622,672 C632,667 644,664 656,664 L660,668 C648,670 636,674 624,678 Z" fill="#2e3a10" opacity="0.85"/>
<!-- left distal tubule -->
<path d="M339.0,570.0 C339.0,561.0 339.5,552.7 341.0,544.0 C342.5,535.3 345.2,525.3 348.0,518.0 C350.8,510.7 354.2,504.7 358.0,500.0 C361.8,495.3 364.5,493.0 371.0,490.0 C377.5,487.0 388.5,483.8 397.0,482.0 C405.5,480.2 414.0,478.7 422.0,479.0 C430.0,479.3 437.7,481.3 445.0,484.0 C452.3,486.7 458.8,490.7 466.0,495.0 C473.2,499.3 480.8,504.3 488.0,510.0 C495.2,515.7 502.3,522.0 509.0,529.0 C515.7,536.0 522.5,544.2 528.0,552.0 C533.5,559.8 538.2,568.2 542.0,576.0 C545.8,583.8 548.8,591.3 551.0,599.0 C553.2,606.7 554.7,614.3 555.0,622.0 C555.3,629.7 554.5,638.0 553.0,645.0 C551.5,652.0 549.5,658.5 546.0,664.0 C542.5,669.5 538.2,674.0 532.0,678.0 C525.8,682.0 516.7,685.7 509.0,688.0 C501.3,690.3 493.7,691.2 486.0,692.0 C478.3,692.8 470.7,693.2 463.0,693.0 C455.3,692.8 447.2,692.3 440.0,691.0 C432.8,689.7 425.8,687.3 420.0,685.0 C414.2,682.7 411.0,680.7 405.0,677.0 C399.0,673.3 391.2,668.2 384.0,663.0 C376.8,657.8 368.0,652.2 362.0,646.0 C356.0,639.8 351.5,634.0 348.0,626.0 C344.5,618.0 342.5,607.3 341.0,598.0 C339.5,588.7 339.0,579.0 339.0,570.0 Z" fill="#f2ac38" stroke="#5a8a22" stroke-width="4"/>
<path d="M387.0,549.0 C388.7,544.5 392.7,540.2 396.0,537.0 C399.3,533.8 402.0,531.4 407.0,529.5 C412.0,527.6 418.3,524.4 426.0,525.6 C433.7,526.9 445.7,533.8 453.0,537.0 C460.3,540.2 464.8,541.7 470.0,545.0 C475.2,548.3 480.3,552.9 484.5,556.7 C488.7,560.5 492.4,564.1 495.0,568.0 C497.6,571.9 498.2,575.7 500.0,580.0 C501.8,584.3 504.7,589.5 506.0,594.0 C507.3,598.5 508.0,602.9 507.8,607.2 C507.6,611.5 506.3,616.1 505.0,620.0 C503.7,623.9 502.5,627.6 500.0,630.6 C497.5,633.6 493.9,636.1 490.0,638.0 C486.1,639.9 481.7,641.2 476.7,642.2 C471.7,643.2 465.2,644.0 460.0,644.0 C454.8,644.0 450.6,643.4 445.6,642.2 C440.6,641.0 435.2,638.9 430.0,637.0 C424.8,635.1 419.0,633.3 414.5,630.6 C410.0,627.9 406.2,624.3 403.0,621.0 C399.8,617.7 397.3,615.2 395.0,611.0 C392.7,606.8 390.3,601.2 389.0,596.0 C387.7,590.8 387.5,585.3 387.0,580.0 C386.5,574.7 386.0,569.2 386.0,564.0 C386.0,558.8 385.3,553.5 387.0,549.0 Z" fill="url(#gLumen)"/>
<g fill="#f2ac38"><circle cx="507" cy="602" r="5.0"/><circle cx="505" cy="619" r="6.5"/><circle cx="496" cy="633" r="6.5"/><circle cx="481" cy="641" r="6.5"/><circle cx="465" cy="643" r="6.5"/><circle cx="451" cy="643" r="6.5"/><circle cx="438" cy="640" r="6.5"/><circle cx="426" cy="635" r="6.5"/><circle cx="414" cy="630" r="6.5"/><circle cx="403" cy="621" r="6.5"/><circle cx="394" cy="610" r="6.5"/><circle cx="389" cy="596" r="5.0"/><circle cx="387" cy="580" r="5.0"/><circle cx="386" cy="562" r="5.0"/><circle cx="391" cy="544" r="5.0"/><circle cx="405" cy="531" r="5.0"/><circle cx="423" cy="526" r="5.0"/><circle cx="442" cy="532" r="5.0"/><circle cx="456" cy="538" r="5.0"/><circle cx="469" cy="544" r="5.0"/><circle cx="479" cy="552" r="5.0"/><circle cx="489" cy="562" r="5.0"/><circle cx="497" cy="573" r="5.0"/><circle cx="503" cy="586" r="5.0"/></g>
<g stroke="#c77a1a" stroke-width="1.6" fill="none" opacity="0.9"><path d="M506,594 L548,596 M507,611 L553,625 M502,627 L547,656 M489,638 L526,679 M473,643 L496,689 M458,644 L468,691 M444,642 L441,690 M431,637 L417,682 M420,633 L396,669 M408,625 L376,655 M399,616 L357,637 M392,603 L346,613 M388,588 L342,586 M386,572 L342,557 M387,553 L347,527 M397,536 L363,499 M414,528 L392,485 M433,529 L423,481 M449,535 L452,489 M462,541 L475,503 M474,548 L494,517 M484,557 L511,533 M494,567 L525,551 M500,580 L538,571"/></g>
<g fill="#d5821a" opacity="0.7"><circle cx="530" cy="606" r="3.2"/><circle cx="529" cy="630" r="3.2"/><circle cx="518" cy="652" r="3.2"/><circle cx="497" cy="664" r="3.2"/><circle cx="474" cy="668" r="3.2"/><circle cx="453" cy="668" r="3.2"/><circle cx="433" cy="664" r="3.2"/><circle cx="416" cy="656" r="3.2"/><circle cx="399" cy="647" r="3.2"/><circle cx="384" cy="634" r="3.2"/><circle cx="371" cy="618" r="3.2"/><circle cx="365" cy="598" r="3.2"/><circle cx="363" cy="576" r="3.2"/><circle cx="364" cy="552" r="3.2"/><circle cx="371" cy="527" r="3.2"/><circle cx="390" cy="510" r="3.2"/><circle cx="415" cy="503" r="3.2"/><circle cx="440" cy="507" r="3.2"/><circle cx="460" cy="516" r="3.2"/><circle cx="477" cy="526" r="3.2"/><circle cx="491" cy="538" r="3.2"/><circle cx="504" cy="551" r="3.2"/><circle cx="515" cy="567" r="3.2"/><circle cx="524" cy="585" r="3.2"/></g>
<g fill="#bf7a30" opacity="0.8" filter="url(#blur2)">
<rect x="425" y="598" width="12" height="11" rx="4"/><rect x="443" y="596" width="12" height="11" rx="4"/><rect x="461" y="594" width="12" height="11" rx="4"/><rect x="479" y="596" width="11" height="11" rx="4"/>
<rect x="432" y="614" width="12" height="11" rx="4"/><rect x="450" y="612" width="12" height="11" rx="4"/><rect x="468" y="612" width="12" height="11" rx="4"/><rect x="486" y="613" width="10" height="10" rx="4"/>
<rect x="440" y="628" width="12" height="10" rx="4"/><rect x="458" y="628" width="12" height="10" rx="4"/><rect x="474" y="628" width="10" height="9" rx="4"/>
<rect x="414" y="614" width="11" height="10" rx="4"/><rect x="452" y="580" width="11" height="10" rx="4"/><rect x="470" y="578" width="11" height="10" rx="4"/>
</g>
</g><!--endart-->
<!-- labels -->
<g>
<text class="t" x="409.8" y="133" textLength="135.5" lengthAdjust="spacing">ARTERIOLA</text>
<text class="t r" x="551.8" y="133" textLength="123.5" lengthAdjust="spacing">AFERENTE</text>
<text class="t" x="865.4" y="122.6" textLength="271.5" lengthAdjust="spacing">CÁPSULA DE BOWMAN</text>
<text class="t" x="983.2" y="178.8" textLength="262.5" lengthAdjust="spacing">ESPACIO DE BOWMAN</text>
<text class="t" x="351.1" y="229.7" textLength="105.5" lengthAdjust="spacing">CÉLULAS</text>
<text class="t" x="184.8" y="258.4" textLength="272.0" lengthAdjust="spacing">YUXTAGLOMERULARES</text>
<text class="t" x="1105.8" y="294.4" textLength="97.1" lengthAdjust="spacing">TÚBULO</text>
<text class="t" x="1054.5" y="323.2" textLength="185.5" lengthAdjust="spacing">CONTORNEADO</text>
<text class="t" x="1109.8" y="352.7" textLength="85.3" lengthAdjust="spacing">DISTAL</text>
<text class="t" x="213.8" y="407.1" textLength="102.7" lengthAdjust="spacing">MÁCULA</text>
<text class="t" x="235.0" y="435.9" textLength="81.5" lengthAdjust="spacing">DENSA</text>
<text class="t" x="284.0" y="793.3" textLength="96.9" lengthAdjust="spacing">TÚBULO</text>
<text class="t" x="193.8" y="823" textLength="277.3" lengthAdjust="spacing">CONTORNEADO DISTAL</text>
<text class="t r" x="189.7" y="944.5" textLength="134.5" lengthAdjust="spacing">ARTERIOLA</text>
<text class="t" x="332.5" y="944.5" textLength="118.5" lengthAdjust="spacing">EFERENTE</text>
<text class="t" x="738.5" y="958.8" textLength="270.8" lengthAdjust="spacing">CÁPSULA DE BOWMAN</text>
<text class="t r" x="1135.2" y="683.3" textLength="148.5" lengthAdjust="spacing">GLOMÉRULO</text>
</g>
<!-- leader lines -->
<g class="ln">
<path d="M548 143V425"/>
<path d="M462 238.5H504.5V489"/>
<path d="M324.4 414.3H403.8V492"/>
<path d="M402 585.5H324.9V770"/>
<path d="M855.8 117.6H813.2V227"/>
<path d="M975.8 170.2H954V311"/>
<path d="M1147.5 372V530"/>
<path d="M992 391H1012V709H950M851 443.8H1012M823 532.8H1012M1012 677.5H1126.7"/>
<path d="M688 810V951.8H731.4"/>
<path d="M544 815V936.4H456"/>
</g>
<g>
<use href="#dot" x="548" y="440"/>
<use href="#dot" x="504" y="505"/>
<use href="#dot" x="402" y="506"/>
<use href="#dot" x="418.3" y="585.6"/>
<use href="#dot" x="813.6" y="237.2"/>
<use href="#dot" x="953.5" y="323"/>
<use href="#dot" x="1147.9" y="541.8"/>
<use href="#dot" x="972.4" y="391.2"/>
<use href="#dot" x="834.5" y="443.8"/>
<use href="#dot" x="807" y="532.8"/>
<use href="#dot" x="931" y="709.3"/>
<use href="#dot" x="688" y="798.6"/>
<use href="#dot" x="544" y="803"/>
</g>
</svg>
</body></html>
